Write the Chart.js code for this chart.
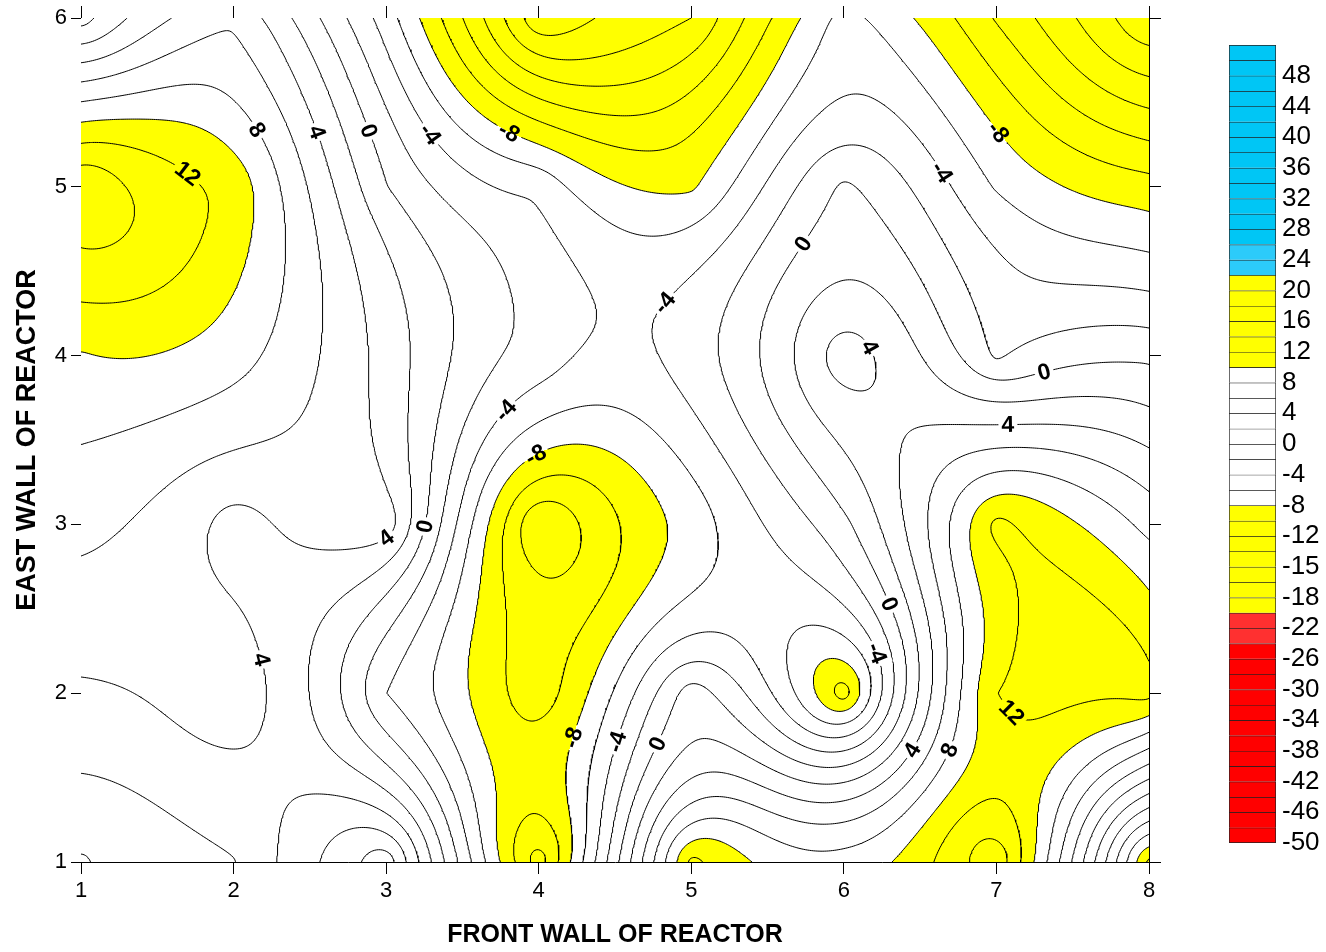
<!DOCTYPE html>
<html>
<head>
<meta charset="utf-8">
<title>Reactor wall contour map</title>
<script src="https://cdn.jsdelivr.net/npm/chart.js@4.4.1/dist/chart.umd.min.js"></script>
<style>
  html, body { margin: 0; padding: 0; background: #fff; }
  #wrap { position: relative; width: 1326px; height: 952px; }
  #plot { position: absolute; left: 0; top: 0; }
  #scale { position: absolute; left: 1200px; top: 0; }
</style>
</head>
<body>
<div id="wrap">
  <canvas id="plot" width="1200" height="952"></canvas>
  <canvas id="scale" width="126" height="952"></canvas>
</div>
<script>
// probe positions along the two walls
const probeX = [1, 2, 3, 4, 5, 6, 7, 8];
const probeY = [6, 5, 4, 3, 2, 1];
// readings, one row per east-wall position (top row first)
const row6 = [-0.9, 5.7, -5, -19.5, -16, -5.3, -12.2, -19.8];
const row5 = [15.9, 11.3, 0.1, -4.5, -8.3, 0.3, -6.2, -9.2];
const row4 = [9.85, 8.8, 3.2, -2.8, -3, 5.1, -2.3, -0.4];
const row3 = [6.6, 3.2, 5.2, -14, -7.2, -0.5, 12.5, 7.3];
const row2 = [3.7, 5.3, -3.98, -11, 1, -11, 11.95, 12.6];
const row1 = [-0.2, 1.9, 9.3, -13, 12.5, 8.8, 15.5, -10.5];

// contour levels and colour classes
const contourLevels = [-20, -18, -16, -14, -12, -10, -8, -6, -4, -2, 0, 2, 4, 6, 8, 10, 12, 14, 16, 18, 20];
const shadeBreaks = [-22, -8, 10, 22];
const shadeColors = ['#ff0000', '#ffff00', '#ffffff', '#ffff00', '#00c6f5'];

// axis ticks
const xTicks = [1, 2, 3, 4, 5, 6, 7, 8];
const yTicks = [1, 2, 3, 4, 5, 6];

// colour scale, one entry per band from the top
const B = '#00c6f5', b = '#2ccbfa', Y = '#ffff00', W = '#ffffff', r = '#ff3030', R = '#ff0000';
const bandColors = [B,B,B,B,B,B,B,B,B,B,B,B,B,b,b, Y,Y,Y,Y,Y,Y, W,W,W,W,W,W,W,W,W, Y,Y,Y,Y,Y,Y,Y, r,r,R,R,R,R,R,R,R,R,R,R,R,R,R];
const bandLabels = ['48','44','40','36','32','28','24','20','16','12','8','4','0','-4','-8','-12','-15','-18','-22','-26','-30','-34','-38','-42','-46','-50'];

// contour labels (text and approximate place)
const labelText = ['8','4','0','-4','-8','12','-8','-4','0','-4','4','0','4','-4','-8','0','4','4','0','-4','-8','-4','0','4','8','12'];
const labelX = [2.16,2.547,2.861,3.287,3.831,1.714,7.02,6.643,5.693,4.828,6.19,7.318,7.076,3.812,3.989,3.287,3.025,2.226,6.322,6.217,4.271,4.566,4.841,6.42,6.65,7.089];
const labelY = [5.337,5.325,5.325,5.307,5.366,5.1,5.32,5.082,4.685,4.3,4.063,3.867,3.571,3.648,3.393,2.985,2.878,2.215,2.535,2.238,1.723,1.693,1.675,1.675,1.675,1.871];

const FONT = '"Liberation Sans", Arial, Helvetica, sans-serif';
Chart.defaults.font.family = FONT;
Chart.defaults.color = '#000';

// ---- kriging surface (linear variogram) through the readings ----
const probes = [];
[row6, row5, row4, row3, row2, row1].forEach((row, ri) =>
  row.forEach((z, ci) => probes.push([probeX[ci], probeY[ri], z])));
const N = probes.length;

function solve(M, v) {
  const n = v.length;
  const a = M.map((row, i) => [...row, v[i]]);
  for (let k = 0; k < n; k++) {
    let p = k;
    for (let i = k + 1; i < n; i++) if (Math.abs(a[i][k]) > Math.abs(a[p][k])) p = i;
    [a[k], a[p]] = [a[p], a[k]];
    for (let i = k + 1; i < n; i++) {
      const f = a[i][k] / a[k][k];
      if (f) for (let j = k; j <= n; j++) a[i][j] -= f * a[k][j];
    }
  }
  const x = new Array(n).fill(0);
  for (let i = n - 1; i >= 0; i--) {
    let s = a[i][n];
    for (let j = i + 1; j < n; j++) s -= a[i][j] * x[j];
    x[i] = s / a[i][i];
  }
  return x;
}

const K = probes.map(p => [...probes.map(q => Math.hypot(p[0] - q[0], p[1] - q[1])), 1]);
K.push([...probes.map(() => 1), 0]);
const wts = solve(K, [...probes.map(p => p[2]), 0]);

function surface(x, y) {
  let s = wts[N];
  for (let i = 0; i < N; i++) {
    const dx = x - probes[i][0], dy = y - probes[i][1];
    s += wts[i] * Math.sqrt(dx * dx + dy * dy);
  }
  return s;
}
function gradient(x, y) {
  let gx = 0, gy = 0;
  for (let i = 0; i < N; i++) {
    const dx = x - probes[i][0], dy = y - probes[i][1];
    const d = Math.sqrt(dx * dx + dy * dy) || 1e-9;
    gx += wts[i] * dx / d; gy += wts[i] * dy / d;
  }
  return [gx, gy];
}

// fine grid
const NX = 561, NY = 401, X0 = 1, Y0 = 1, DX = 7 / (NX - 1), DY = 5 / (NY - 1);
const Z = new Float64Array(NX * NY);
for (let j = 0; j < NY; j++)
  for (let i = 0; i < NX; i++) Z[j * NX + i] = surface(X0 + i * DX, Y0 + j * DY);

function gridValue(x, y) {
  let gx = (x - X0) / DX, gy = (y - Y0) / DY;
  gx = Math.min(Math.max(gx, 0), NX - 1.000001);
  gy = Math.min(Math.max(gy, 0), NY - 1.000001);
  const i = Math.floor(gx), j = Math.floor(gy), fx = gx - i, fy = gy - j, k = j * NX + i;
  return (Z[k] * (1 - fx) + Z[k + 1] * fx) * (1 - fy) + (Z[k + NX] * (1 - fx) + Z[k + NX + 1] * fx) * fy;
}

function edgePoint(id, L) {
  const k = id >> 1, i = k % NX, j = (k - i) / NX;
  if ((id & 1) === 0) {
    const t = (L - Z[k]) / (Z[k + 1] - Z[k]);
    return [X0 + (i + t) * DX, Y0 + j * DY];
  }
  const t = (L - Z[k]) / (Z[k + NX] - Z[k]);
  return [X0 + i * DX, Y0 + (j + t) * DY];
}

// marching squares, joined into polylines
function isolines(L) {
  const adj = new Map();
  const add = (a, b) => { if (!adj.has(a)) adj.set(a, []); adj.get(a).push(b); };
  const link = (a, b) => { add(a, b); add(b, a); };
  for (let j = 0; j < NY - 1; j++) {
    for (let i = 0; i < NX - 1; i++) {
      const k = j * NX + i;
      const va = Z[k], vb = Z[k + 1], vc = Z[k + NX + 1], vd = Z[k + NX];
      const sa = va >= L, sb = vb >= L, sc = vc >= L, sd = vd >= L;
      if (sa === sb && sb === sc && sc === sd) continue;
      const e0 = k * 2, e1 = (k + 1) * 2 + 1, e2 = (k + NX) * 2, e3 = k * 2 + 1;
      const cr = [];
      if (sa !== sb) cr.push(e0);
      if (sb !== sc) cr.push(e1);
      if (sc !== sd) cr.push(e2);
      if (sd !== sa) cr.push(e3);
      if (cr.length === 2) link(cr[0], cr[1]);
      else if (((va + vb + vc + vd) / 4 >= L) === sa) { link(e0, e1); link(e2, e3); }
      else { link(e0, e3); link(e1, e2); }
    }
  }
  const used = new Set(), out = [];
  const walk = start => {
    const chain = [start];
    used.add(start);
    let cur = start;
    for (;;) {
      const nxt = adj.get(cur).find(e => !used.has(e));
      if (nxt === undefined) break;
      used.add(nxt); chain.push(nxt); cur = nxt;
    }
    if (chain.length > 2 && adj.get(cur).includes(start)) chain.push(start);
    return chain.map(e => edgePoint(e, L));
  };
  for (const [e, nb] of adj) if (nb.length === 1 && !used.has(e)) out.push(walk(e));
  for (const [e] of adj) if (!used.has(e)) out.push(walk(e));
  return out;
}

const contourSet = [];
contourLevels.forEach(L => isolines(L).forEach(pts => { if (pts.length > 1) contourSet.push({ level: L, pts }); }));

const datasets = contourSet.map(c => ({
  data: c.pts.map(p => ({ x: p[0], y: p[1] })),
  showLine: true, borderColor: '#000', borderWidth: 1, pointRadius: 0,
  tension: 0, fill: false, xAxisID: 'x', yAxisID: 'y'
}));

// ---- shading drawn under the lines ----
let shadeCanvas = null;
function hexRGB(h) { return [1, 3, 5].map(o => parseInt(h.substr(o, 2), 16)); }

const shading = {
  id: 'shading',
  beforeDatasetsDraw(chart) {
    const a = chart.chartArea, xs = chart.scales.x, ys = chart.scales.y;
    const w = Math.round(a.right - a.left), h = Math.round(a.bottom - a.top);
    if (!shadeCanvas) {
      shadeCanvas = document.createElement('canvas');
      shadeCanvas.width = w; shadeCanvas.height = h;
      const c = shadeCanvas.getContext('2d');
      const img = c.createImageData(w, h);
      const rgb = shadeColors.map(hexRGB);
      for (let py = 0; py < h; py++) {
        const yv = ys.getValueForPixel(a.top + py + 0.5);
        for (let px = 0; px < w; px++) {
          const z = gridValue(xs.getValueForPixel(a.left + px + 0.5), yv);
          let k = 0;
          while (k < shadeBreaks.length && z > shadeBreaks[k]) k++;
          const o = (py * w + px) * 4;
          img.data[o] = rgb[k][0]; img.data[o + 1] = rgb[k][1]; img.data[o + 2] = rgb[k][2]; img.data[o + 3] = 255;
        }
      }
      c.putImageData(img, 0, 0);
    }
    chart.ctx.drawImage(shadeCanvas, a.left, a.top);
  }
};

// ---- contour labels: snapped to their line, written along it ----
const contourLabels = {
  id: 'contourLabels',
  afterDatasetsDraw(chart) {
    const {ctx, chartArea: a} = chart;
    const xs = chart.scales.x, ys = chart.scales.y;
    const sx = (xs.getPixelForValue(8) - xs.getPixelForValue(1)) / 7;
    const sy = (ys.getPixelForValue(1) - ys.getPixelForValue(6)) / 5;
    ctx.save();
    ctx.font = 'bold 23px ' + FONT;
    ctx.textAlign = 'center';
    ctx.textBaseline = 'middle';
    labelText.forEach((t, i) => {
      const lev = Number(t);
      let best = [labelX[i], labelY[i]], bd = 40 * 40;
      contourSet.forEach(c => {
        if (c.level !== lev) return;
        c.pts.forEach(p => {
          const d = ((p[0] - labelX[i]) * sx) ** 2 + ((p[1] - labelY[i]) * sy) ** 2;
          if (d < bd) { bd = d; best = p; }
        });
      });
      const [gx, gy] = gradient(best[0], best[1]);
      // tangent in screen space, kept readable
      let ang = Math.atan2(gx / sx, gy / sy);
      if (ang > Math.PI / 2) ang -= Math.PI;
      if (ang <= -Math.PI / 2) ang += Math.PI;
      const px = xs.getPixelForValue(best[0]), py = ys.getPixelForValue(best[1]);
      const tw = ctx.measureText(t).width;
      ctx.save();
      ctx.translate(px, py);
      ctx.rotate(ang);
      ctx.beginPath();
      ctx.rect(-tw / 2 - 3, -12, tw + 6, 24);
      ctx.rotate(-ang);
      ctx.translate(-px, -py);
      ctx.save();
      ctx.clip();
      ctx.drawImage(shadeCanvas, a.left, a.top);
      ctx.restore();
      ctx.translate(px, py);
      ctx.rotate(ang);
      ctx.fillStyle = '#000';
      ctx.fillText(t, 0, 1);
      ctx.restore();
    });
    ctx.restore();
  }
};

const frameGrid = { drawOnChartArea: false, drawTicks: true, color: '#000', lineWidth: 1 };

new Chart(document.getElementById('plot'), {
  type: 'scatter',
  data: { datasets },
  options: {
    responsive: false,
    animation: false,
    events: [],
    layout: { padding: 0 },
    plugins: { legend: { display: false }, tooltip: { enabled: false } },
    scales: {
      x: {
        type: 'linear', position: 'bottom', min: 1, max: 8, z: 1,
        afterBuildTicks: s => { s.ticks = xTicks.map(v => ({ value: v })); },
        ticks: { font: { size: 22 }, color: '#000', padding: 4, maxRotation: 0, autoSkip: false },
        grid: { ...frameGrid, tickLength: 12 },
        border: { color: '#000', width: 1 },
        title: { display: true, text: 'FRONT WALL OF REACTOR', color: '#000',
                 font: { size: 25, weight: 'bold' }, padding: { top: 0, bottom: 2 } },
        afterFit: s => { s.height = 90; }
      },
      xTop: {
        type: 'linear', position: 'top', min: 1, max: 8, z: 1,
        afterBuildTicks: s => { s.ticks = xTicks.map(v => ({ value: v })); },
        ticks: { display: false },
        grid: { ...frameGrid, tickLength: 12 },
        border: { color: '#000', width: 1 },
        afterFit: s => { s.height = 18; }
      },
      y: {
        type: 'linear', position: 'left', min: 1, max: 6, z: 1,
        afterBuildTicks: s => { s.ticks = yTicks.map(v => ({ value: v })); },
        ticks: { font: { size: 22 }, color: '#000', padding: 4 },
        grid: { ...frameGrid, tickLength: 10 },
        border: { color: '#000', width: 1 },
        title: { display: true, text: 'EAST WALL OF REACTOR', color: '#000',
                 font: { size: 27, weight: 'bold' }, padding: { top: 11, bottom: 0 } },
        afterFit: s => { s.width = 81; }
      },
      yRight: {
        type: 'linear', position: 'right', min: 1, max: 6, z: 1,
        afterBuildTicks: s => { s.ticks = yTicks.map(v => ({ value: v })); },
        ticks: { display: false },
        grid: { ...frameGrid, tickLength: 12 },
        border: { color: '#000', width: 1 },
        afterFit: s => { s.width = 51; }
      }
    }
  },
  plugins: [shading, contourLabels]
});

// colour scale bar
new Chart(document.getElementById('scale'), {
  type: 'bar',
  data: {
    labels: [''],
    datasets: bandColors.map((c, i) => ({
      data: [[51 - i, 52 - i]],
      backgroundColor: c,
      borderColor: '#222',
      borderWidth: { top: 1, left: 1, right: 1, bottom: i === bandColors.length - 1 ? 1 : 0 },
      borderSkipped: false,
      barPercentage: 1,
      categoryPercentage: 1,
      grouped: false
    }))
  },
  options: {
    responsive: false,
    animation: false,
    events: [],
    layout: { padding: { left: 29, top: 45, bottom: 109, right: 0 } },
    plugins: { legend: { display: false }, tooltip: { enabled: false } },
    scales: {
      x: { display: false },
      y: {
        position: 'right', min: 0, max: 52,
        afterBuildTicks: s => { s.ticks = bandLabels.map((t, j) => ({ value: 50 - 2 * j })).reverse(); },
        ticks: { font: { size: 26 }, color: '#000', padding: 6, autoSkip: false,
                 callback: v => bandLabels[Math.round((50 - v) / 2)] },
        grid: { display: false, drawTicks: false, tickLength: 0 },
        border: { display: false },
        afterFit: s => { s.width = 50; }
      }
    }
  }
});
</script>
</body>
</html>
